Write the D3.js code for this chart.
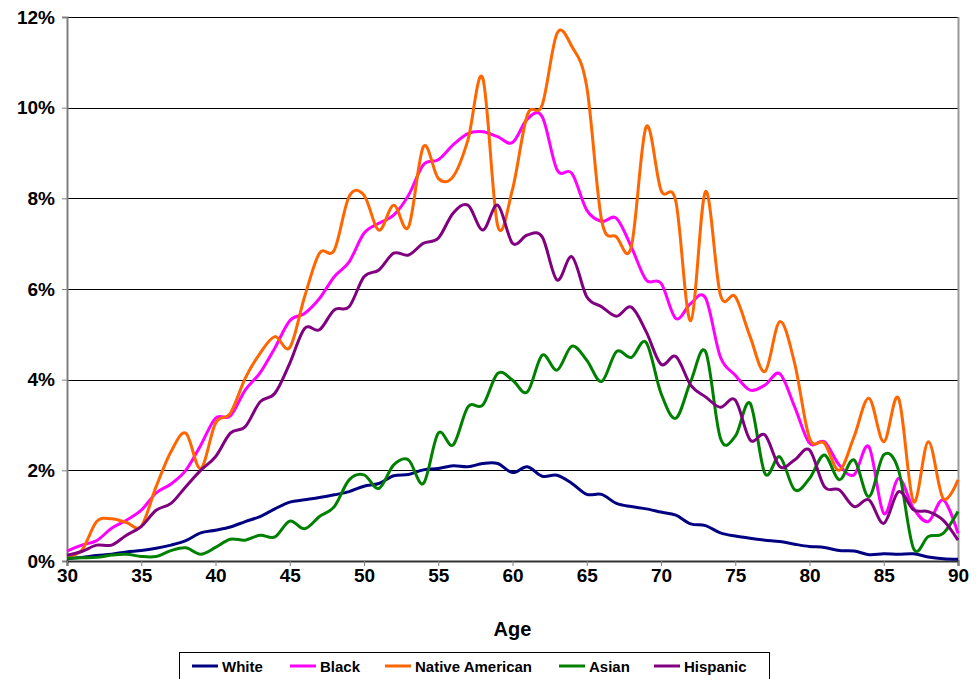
<!DOCTYPE html>
<html><head><meta charset="utf-8">
<script src="https://cdn.jsdelivr.net/npm/d3@7"></script>
<style>body{margin:0;background:#fff;} text{font-family:"Liberation Sans",Arial,sans-serif;font-weight:bold;}</style>
</head><body>
<svg id="c" width="977" height="679"></svg>
<script>
const ages = d3.range(30, 91);
const seriesNames = ["White", "Black", "Native American", "Asian", "Hispanic"];
const seriesColors = ["#000080", "#FF00FF", "#FF6600", "#008000", "#800080"];
const yTicks = [0, 2, 4, 6, 8, 10, 12];
const xTicks = [30, 35, 40, 45, 50, 55, 60, 65, 70, 75, 80, 85, 90];

const white = [0.05,0.08,0.12,0.15,0.2,0.23,0.28,0.35,0.45,0.62,0.68,0.75,0.87,0.98,1.15,1.3,1.35,1.4,1.46,1.53,1.65,1.71,1.88,1.91,2.01,2.04,2.1,2.08,2.15,2.15,1.95,2.08,1.87,1.89,1.71,1.47,1.47,1.27,1.2,1.15,1.08,1.01,0.82,0.78,0.62,0.55,0.5,0.46,0.43,0.37,0.32,0.3,0.23,0.22,0.14,0.16,0.15,0.16,0.09,0.05,0.04];
const black = [0.22,0.35,0.45,0.72,0.9,1.12,1.5,1.7,2.0,2.55,3.15,3.2,3.77,4.15,4.7,5.3,5.46,5.79,6.27,6.6,7.23,7.45,7.63,8.07,8.74,8.85,9.18,9.43,9.47,9.36,9.23,9.75,9.8,8.63,8.55,7.74,7.49,7.56,6.93,6.2,6.13,5.35,5.68,5.8,4.5,4.1,3.77,3.88,4.13,3.4,2.6,2.63,2.12,1.9,2.52,1.05,1.82,1.16,0.87,1.35,0.61];
const nativeAm = [0.1,0.24,0.87,0.93,0.85,0.77,1.64,2.41,2.82,2.04,3.04,3.26,4.03,4.58,4.95,4.71,5.83,6.79,6.86,8.04,8.07,7.3,7.85,7.37,9.14,8.44,8.48,9.29,10.65,7.4,8.2,9.84,10.06,11.64,11.35,10.46,7.52,7.15,6.93,9.58,8.18,7.93,5.3,8.15,5.87,5.83,4.95,4.18,5.28,4.36,2.71,2.6,2.0,2.74,3.59,2.63,3.59,1.31,2.63,1.38,1.79];
const asian = [0.06,0.07,0.08,0.13,0.15,0.1,0.1,0.23,0.29,0.15,0.3,0.48,0.46,0.57,0.53,0.88,0.71,0.98,1.2,1.79,1.9,1.6,2.12,2.23,1.71,2.82,2.56,3.4,3.44,4.14,3.99,3.73,4.54,4.21,4.74,4.43,3.96,4.62,4.49,4.82,3.7,3.15,3.96,4.62,2.71,2.75,3.48,1.93,2.3,1.57,1.82,2.34,1.79,2.23,1.42,2.34,2.0,0.28,0.54,0.61,1.09];
const hispanic = [0.13,0.21,0.35,0.35,0.57,0.76,1.12,1.27,1.64,2.0,2.3,2.82,2.96,3.51,3.7,4.36,5.13,5.1,5.54,5.61,6.27,6.42,6.79,6.75,7.01,7.12,7.67,7.85,7.3,7.85,7.01,7.19,7.15,6.2,6.71,5.83,5.61,5.4,5.6,5.06,4.34,4.51,3.88,3.62,3.39,3.55,2.67,2.78,2.08,2.23,2.45,1.64,1.57,1.2,1.35,0.83,1.53,1.13,1.09,0.9,0.46];

const allSeries = [white, black, nativeAm, asian, hispanic];

const svg = d3.select("#c");
const L = 67, R = 958, T = 17, B = 561;
const x = d3.scaleLinear().domain([30, 90]).range([L, R]);
const y = d3.scaleLinear().domain([0, 12]).range([B, T]);

// gridlines
svg.append("g").selectAll("line").data(yTicks.filter(d => d > 0)).join("line")
  .attr("x1", L).attr("x2", R).attr("y1", d => Math.round(y(d)) + 0.5).attr("y2", d => Math.round(y(d)) + 0.5)
  .attr("stroke", "#000").attr("stroke-width", 1);

// right border
svg.append("line").attr("x1", R + 0.5).attr("x2", R + 0.5).attr("y1", T).attr("y2", B)
  .attr("stroke", "#999").attr("stroke-width", 2);

// axes
const yAxis = d3.axisLeft(y).tickValues(yTicks).tickFormat(d => d + "%").tickSize(5).tickPadding(7);
const gy = svg.append("g").attr("transform", `translate(${L},0)`).call(yAxis);
gy.select(".domain").attr("stroke", "#808080").attr("stroke-width", 2);
gy.selectAll(".tick line").attr("stroke", "#808080");
gy.selectAll("text").attr("font-size", 19).attr("fill", "#000").style("font-family", "'Liberation Sans',Arial,sans-serif").style("font-weight", "bold");

const xAxis = d3.axisBottom(x).tickValues(xTicks).tickFormat(d3.format("d")).tickSize(5).tickPadding(3);
const gx = svg.append("g").attr("transform", `translate(0,${B})`).call(xAxis);
gx.select(".domain").attr("stroke", "#333").attr("stroke-width", 2);
gx.selectAll(".tick line").attr("stroke", "#808080");
gx.selectAll("text").attr("font-size", 19).attr("fill", "#000").style("font-family", "'Liberation Sans',Arial,sans-serif").style("font-weight", "bold");

svg.append("text").attr("x", (L + R) / 2).attr("y", 636).attr("text-anchor", "middle")
  .attr("font-size", 20).text("Age");

// lines
const line = d3.line().x((d, i) => x(ages[i])).y(d => y(d)).curve(d3.curveCatmullRom.alpha(0));
const order = [0, 1, 2, 3, 4];
svg.append("g").selectAll("path").data(order).join("path")
  .attr("d", i => line(allSeries[i]))
  .attr("fill", "none").attr("stroke", i => seriesColors[i]).attr("stroke-width", 3)
  .attr("stroke-linejoin", "round");

// legend
const lg = svg.append("g");
lg.append("rect").attr("x", 179.5).attr("y", 652.5).attr("width", 590).attr("height", 40)
  .attr("fill", "#fff").attr("stroke", "#000").attr("stroke-width", 1);
const legX = [192, 290, 385, 559, 654];
seriesNames.forEach((n, i) => {
  lg.append("line").attr("x1", legX[i]).attr("x2", legX[i] + 26).attr("y1", 666).attr("y2", 666)
    .attr("stroke", seriesColors[i]).attr("stroke-width", 3);
  lg.append("text").attr("x", legX[i] + 30).attr("y", 671.5).attr("font-size", 15).text(n);
});
</script>
</body></html>
